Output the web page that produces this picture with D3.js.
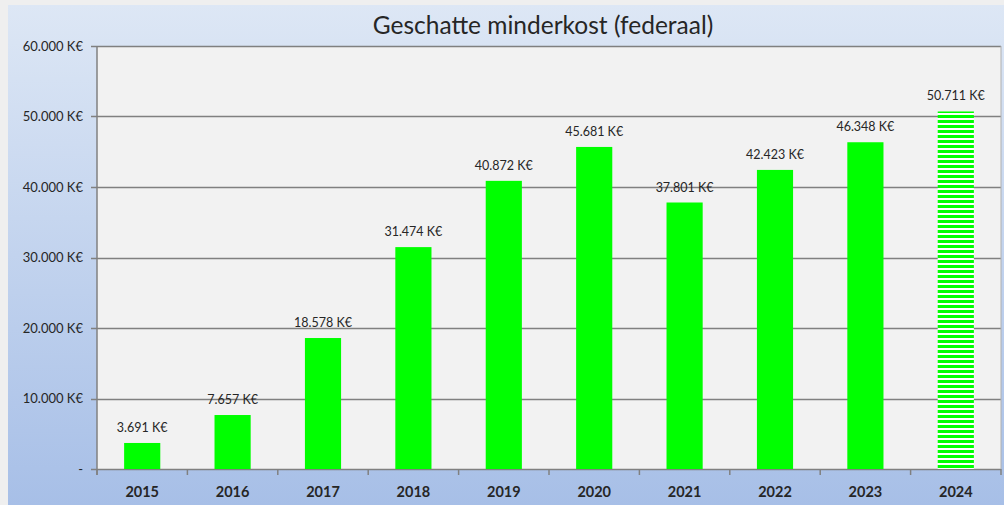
<!DOCTYPE html>
<html>
<head>
<meta charset="utf-8">
<script src="https://cdn.jsdelivr.net/npm/d3@7"></script>
<style>
  html, body { margin: 0; padding: 0; background: #efefef; }
  svg { display: block; }
  text { font-family: Lato, "Open Sans", sans-serif; fill: #262626; }
</style>
</head>
<body>
<svg id="chart" width="1004" height="505"></svg>
<script>
// Geschatte minderkost per jaar (K€); 2024 is een raming
const years = ["2015", "2016", "2017", "2018", "2019", "2020", "2021", "2022", "2023", "2024"];
const values = [3691, 7657, 18578, 31474, 40872, 45681, 37801, 42423, 46348, 50711];
const estimated = [false, false, false, false, false, false, false, false, false, true];
const yTicks = [0, 10000, 20000, 30000, 40000, 50000, 60000];
const title = "Geschatte minderkost (federaal)";

const svg = d3.select("#chart");
const W = 1004, H = 505;
const plot = { left: 97, right: 1001, top: 46, bottom: 469 };

const nl = d3.formatLocale({ decimal: ",", thousands: ".", grouping: [3], currency: ["", " K€"] });
const fmt = v => v === 0 ? "-" : nl.format(",.0f")(v) + " K€";

const defs = svg.append("defs");
const grad = defs.append("linearGradient").attr("id", "bg").attr("x1", 0).attr("y1", 0).attr("x2", 0).attr("y2", 1);
grad.append("stop").attr("offset", "0%").attr("stop-color", "#dde7f5");
grad.append("stop").attr("offset", "100%").attr("stop-color", "#a7bfe7");

const pat = defs.append("pattern").attr("id", "stripes")
  .attr("patternUnits", "userSpaceOnUse").attr("width", 8).attr("height", 5);
pat.append("rect").attr("width", 8).attr("height", 5).attr("fill", "#ffffff");
pat.append("rect").attr("width", 8).attr("height", 3).attr("fill", "#00ff00");

// chart area
svg.append("rect").attr("x", 8).attr("y", 5).attr("width", W - 8).attr("height", H - 5).attr("fill", "url(#bg)");

// plot area
svg.append("rect").attr("x", plot.left).attr("y", plot.top)
  .attr("width", plot.right - plot.left).attr("height", plot.bottom - plot.top).attr("fill", "#f2f2f2");

const x = d3.scaleBand().domain(years).range([plot.left, plot.right]).paddingInner(0.6).paddingOuter(0.3);
const y = d3.scaleLinear().domain([0, 60000]).range([plot.bottom, plot.top]);
const step = x.step();

// gridlines + y labels
const grid = svg.append("g");
grid.selectAll("line").data(yTicks).join("line")
  .attr("x1", plot.left - 6).attr("x2", plot.right)
  .attr("y1", d => Math.round(y(d)) + 0.5).attr("y2", d => Math.round(y(d)) + 0.5)
  .attr("stroke", "#808080").attr("stroke-width", 1.5);
grid.selectAll("text").data(yTicks).join("text")
  .attr("x", 83).attr("y", d => y(d)).attr("dy", "0.35em")
  .attr("text-anchor", "end").attr("font-size", 13)
  .text(fmt);

// axes lines
svg.append("line").attr("x1", plot.left).attr("x2", plot.left).attr("y1", plot.top).attr("y2", plot.bottom + 6)
  .attr("stroke", "#808080").attr("stroke-width", 1.5);
svg.append("line").attr("x1", plot.right).attr("x2", plot.right).attr("y1", plot.top).attr("y2", plot.bottom)
  .attr("stroke", "#b0b0b0").attr("stroke-width", 1);

// category ticks
svg.append("g").selectAll("line").data(d3.range(years.length + 1)).join("line")
  .attr("x1", i => plot.left + i * step).attr("x2", i => plot.left + i * step)
  .attr("y1", plot.bottom).attr("y2", plot.bottom + 6)
  .attr("stroke", "#808080").attr("stroke-width", 1.5);

// bars
svg.append("g").selectAll("rect").data(years).join("rect")
  .attr("x", d => x(d)).attr("width", x.bandwidth())
  .attr("y", (d, i) => y(values[i])).attr("height", (d, i) => y(0) - y(values[i]))
  .attr("fill", (d, i) => estimated[i] ? "url(#stripes)" : "#00ff00");

// value labels
svg.append("g").selectAll("text").data(years).join("text")
  .attr("x", d => x(d) + x.bandwidth() / 2)
  .attr("y", (d, i) => y(values[i]) - 11)
  .attr("text-anchor", "middle").attr("font-size", 12.5)
  .text((d, i) => fmt(values[i]));

// category labels
svg.append("g").selectAll("text").data(years).join("text")
  .attr("x", d => x(d) + x.bandwidth() / 2).attr("y", 497)
  .attr("text-anchor", "middle").attr("font-size", 14.5).attr("font-weight", "bold")
  .attr("fill", "#111")
  .text(d => d);

// title
svg.append("text").attr("x", 543).attr("y", 34).attr("text-anchor", "middle")
  .attr("font-size", 24.5).attr("fill", "#111").text(title);
</script>
</body>
</html>
